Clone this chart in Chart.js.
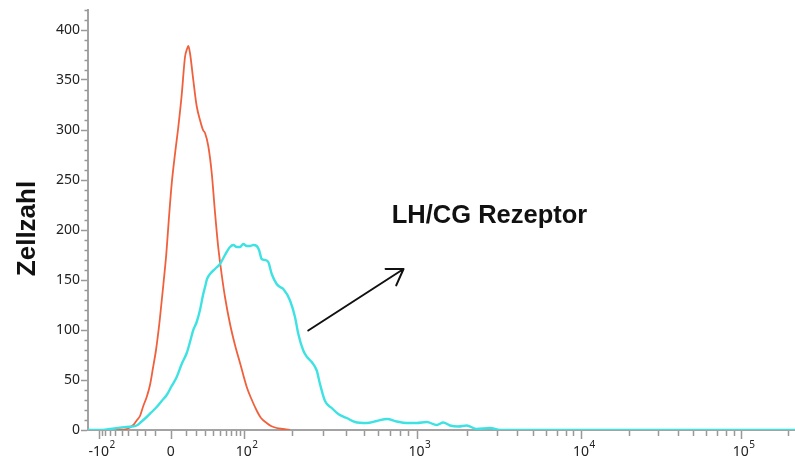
<!DOCTYPE html>
<html>
<head>
<meta charset="utf-8">
<script src="https://cdn.jsdelivr.net/npm/chart.js@4.4.0/dist/chart.umd.min.js"></script>
<style>
  html, body { margin: 0; padding: 0; background: #fff; }
  #histo { display: block; }
</style>
</head>
<body>
<canvas id="histo" width="795" height="461"></canvas>
<script>
// x = display channel of the biexponential axis (0-1024), y = cell count
// isotype control (red)
const isoX = [40, 46.3, 56.1, 65.6, 71.0, 75.3, 80.1, 85.0, 89.8, 94.1, 98.5, 103.9, 109.8, 113.4, 117.0,
  121.2, 126.0, 130.8, 135.7, 140.5, 143.4, 145.3, 147.7, 152.5, 157.4, 162.2, 166.6, 169.5, 174.2,
  179.2, 183.9, 188.3, 191.2, 193.7, 198.4, 205.7, 212.9, 220.2, 229.9, 236.1, 244.3, 250.6, 258.8,
  265.1, 273.3, 282.4, 292.6];
const isoY = [0, 0, 1, 5, 10, 14, 24, 33, 45, 62, 80, 110, 150, 176, 210,
  246, 276, 303, 335, 373, 381, 384, 377, 350, 324, 310, 300, 297, 284,
  257, 218, 185, 168, 155, 133, 106, 85, 67, 43, 32, 19.5, 12, 7,
  4, 2, 1, 0];

// LH/CG receptor staining (cyan)
const lhcgX = [0, 17.4, 31.9, 56.1, 70.5, 76.8, 85.0, 92.3, 99.5, 106.7, 114.0, 121.2, 128.5, 135.7,
  143.0, 147.7, 152.5, 157.4, 162.2, 166.6, 169.5, 172.4, 176.7, 183.9, 191.2, 198.4, 205.7, 210.5,
  215.4, 220.2, 224.9, 229.9, 234.6, 239.4, 244.3, 247.7, 251.6, 256.4, 261.1, 266.1, 273.3, 278.1,
  282.9, 292.6, 299.8, 304.6, 311.8, 317.2, 324.0, 331.3, 336.0, 343.3, 353.0, 362.5, 374.7, 386.7,
  403.7, 418.2, 433.1, 447.1, 461.6, 476.1, 490.6, 505.1, 514.6, 524.3, 536.3, 548.5, 563.0, 582.3,
  596.7, 1024];
const lhcgY = [0, 0, 1, 3, 4.5, 8, 13, 18, 23, 29, 35, 44, 53, 66,
  77, 88, 100, 108, 120, 135, 143, 151, 156, 161, 166, 175, 183, 185,
  183, 183, 186, 184, 184, 185, 184, 180, 171, 170, 168, 156, 146, 143,
  141, 129.5, 113, 96, 79.5, 73, 68, 59.5, 46, 29, 22, 16, 12, 8,
  7, 9, 11, 8.5, 7, 7, 8, 5, 7.5, 4.5, 3.5, 4.5, 1, 2,
  0, 0];

// axis ticks (channels) and their labels
const xMajorPos = [15.5, 119.8, 225.5, 475.8, 714.1, 945.4];
const xTickBase = ['-10', '0', '10', '10', '10', '10'];
const xTickExp = ['2', '', '2', '3', '4', '5'];
const xMinorPos = [19.9, 24.8, 32.0, 39.3, 48.8, 58.5, 70.6, 82.7, 97.2,
  142.4, 156.9, 169.0, 181.1, 190.8, 200.3, 207.6, 214.8, 219.7,
  295.5, 340.4, 374.1, 399.8, 420.0, 437.0, 451.5, 463.5,
  548.5, 592.0, 621.8, 644.1, 663.4, 678.9, 692.3, 702.9,
  784.0, 825.2, 854.1, 876.7, 895.1, 910.6, 923.7, 935.7, 1014.3];

const yMax = 420;
const yTitle = 'Zellzahl';
const noteText = 'LH/CG Rezeptor';
const notePos = [440, 207];
const arrowFrom = [319, 99.5];
const arrowTo = [457, 161];

const axisGray = '#a3a3a3';
const labelFont = '"Noto Sans", "Open Sans", sans-serif';

const extras = {
  id: 'extras',
  afterDatasetsDraw(chart) {
    const { ctx, scales: { x, y } } = chart;
    ctx.save();
    const x1 = x.getPixelForValue(arrowFrom[0]), y1 = y.getPixelForValue(arrowFrom[1]);
    const x2 = x.getPixelForValue(arrowTo[0]), y2 = y.getPixelForValue(arrowTo[1]);
    const ang = Math.atan2(y1 - y2, x1 - x2);
    ctx.strokeStyle = '#111';
    ctx.lineWidth = 2;
    ctx.lineCap = 'round';
    ctx.beginPath();
    ctx.moveTo(x1, y1);
    ctx.lineTo(x2, y2);
    [-1, 1].forEach(s => {
      ctx.moveTo(x2, y2);
      ctx.lineTo(x2 + 18 * Math.cos(ang + s * 0.58), y2 + 18 * Math.sin(ang + s * 0.58));
    });
    ctx.stroke();

    ctx.fillStyle = '#111';
    ctx.font = 'bold 25.5px "Liberation Sans", Arial, sans-serif';
    ctx.textAlign = 'left';
    ctx.textBaseline = 'alphabetic';
    ctx.fillText(noteText, x.getPixelForValue(notePos[0]), y.getPixelForValue(notePos[1]));
    ctx.restore();
  },
  afterDraw(chart) {
    const { ctx, scales: { x, y } } = chart;
    const yb = y.getPixelForValue(0);
    ctx.save();
    ctx.strokeStyle = '#999';
    ctx.lineWidth = 1.5;
    ctx.beginPath();
    xMajorPos.forEach(p => {
      const px = Math.round(x.getPixelForValue(p)) + 0.5;
      ctx.moveTo(px, yb + 1);
      ctx.lineTo(px, yb + 9);
    });
    xMinorPos.forEach(p => {
      const px = Math.round(x.getPixelForValue(p)) + 0.5;
      ctx.moveTo(px, yb + 1);
      ctx.lineTo(px, yb + 6);
    });
    // minor y ticks every 10
    for (let v = 10; v <= yMax; v += 10) {
      if (v % 50 === 0) continue;
      const py = Math.round(y.getPixelForValue(v)) + 0.5;
      ctx.moveTo(x.left - 3.5, py);
      ctx.lineTo(x.left, py);
    }
    ctx.stroke();

    // x tick labels with superscript exponents
    ctx.fillStyle = '#222';
    ctx.textAlign = 'left';
    ctx.textBaseline = 'alphabetic';
    xMajorPos.forEach((p, i) => {
      const px = x.getPixelForValue(p);
      ctx.font = '14px ' + labelFont;
      const w = ctx.measureText(xTickBase[i]).width;
      const sx = px - w / 2;
      ctx.fillText(xTickBase[i], sx, yb + 26);
      if (xTickExp[i]) {
        ctx.font = '10px ' + labelFont;
        ctx.fillText(xTickExp[i], sx + w + 0.5, yb + 18);
      }
    });

    // y axis title
    ctx.translate(35, 228.5);
    ctx.rotate(-Math.PI / 2);
    ctx.font = 'bold 26px "Liberation Sans", Arial, sans-serif';
    ctx.textAlign = 'center';
    ctx.fillStyle = '#111';
    ctx.fillText(yTitle, 0, 0);
    ctx.restore();
  }
};

const toPoints = (xs, ys) => xs.map((v, i) => ({ x: v, y: ys[i] }));

const data = {
  datasets: [
    {
      label: 'LH/CG Rezeptor',
      data: toPoints(lhcgX, lhcgY),
      borderColor: '#3ee2e2',
      borderWidth: 2.4,
      pointRadius: 0,
      cubicInterpolationMode: 'monotone',
      fill: false,
    },
    {
      label: 'Isotyp',
      data: toPoints(isoX, isoY),
      borderColor: '#f0603c',
      borderWidth: 1.8,
      pointRadius: 0,
      cubicInterpolationMode: 'monotone',
      fill: false,
    },
  ],
};

const config = {
  type: 'line',
  data,
  options: {
    responsive: false,
    animation: false,
    layout: { padding: { top: 10, right: 0, bottom: 0, left: 0 } },
    plugins: { legend: { display: false }, tooltip: { enabled: false } },
    scales: {
      x: {
        type: 'linear',
        min: 0,
        max: 1024,
        grid: { display: false },
        border: { display: true, color: axisGray, width: 2 },
        ticks: { display: false },
        afterFit: (scale) => { scale.height = 31; },
      },
      y: {
        min: 0,
        max: yMax,
        grid: { display: true, drawOnChartArea: false, drawTicks: true, tickLength: 7, tickColor: '#999', tickWidth: 1.5 },
        border: { display: true, color: axisGray, width: 2 },
        ticks: { stepSize: 50, includeBounds: false, padding: 1, color: '#222', font: { family: labelFont, size: 14 } },
        afterFit: (scale) => { scale.width = 88; },
      },
    },
  },
  plugins: [extras],
};

const histo = new Chart(document.getElementById('histo'), config);
</script>
</body>
</html>
